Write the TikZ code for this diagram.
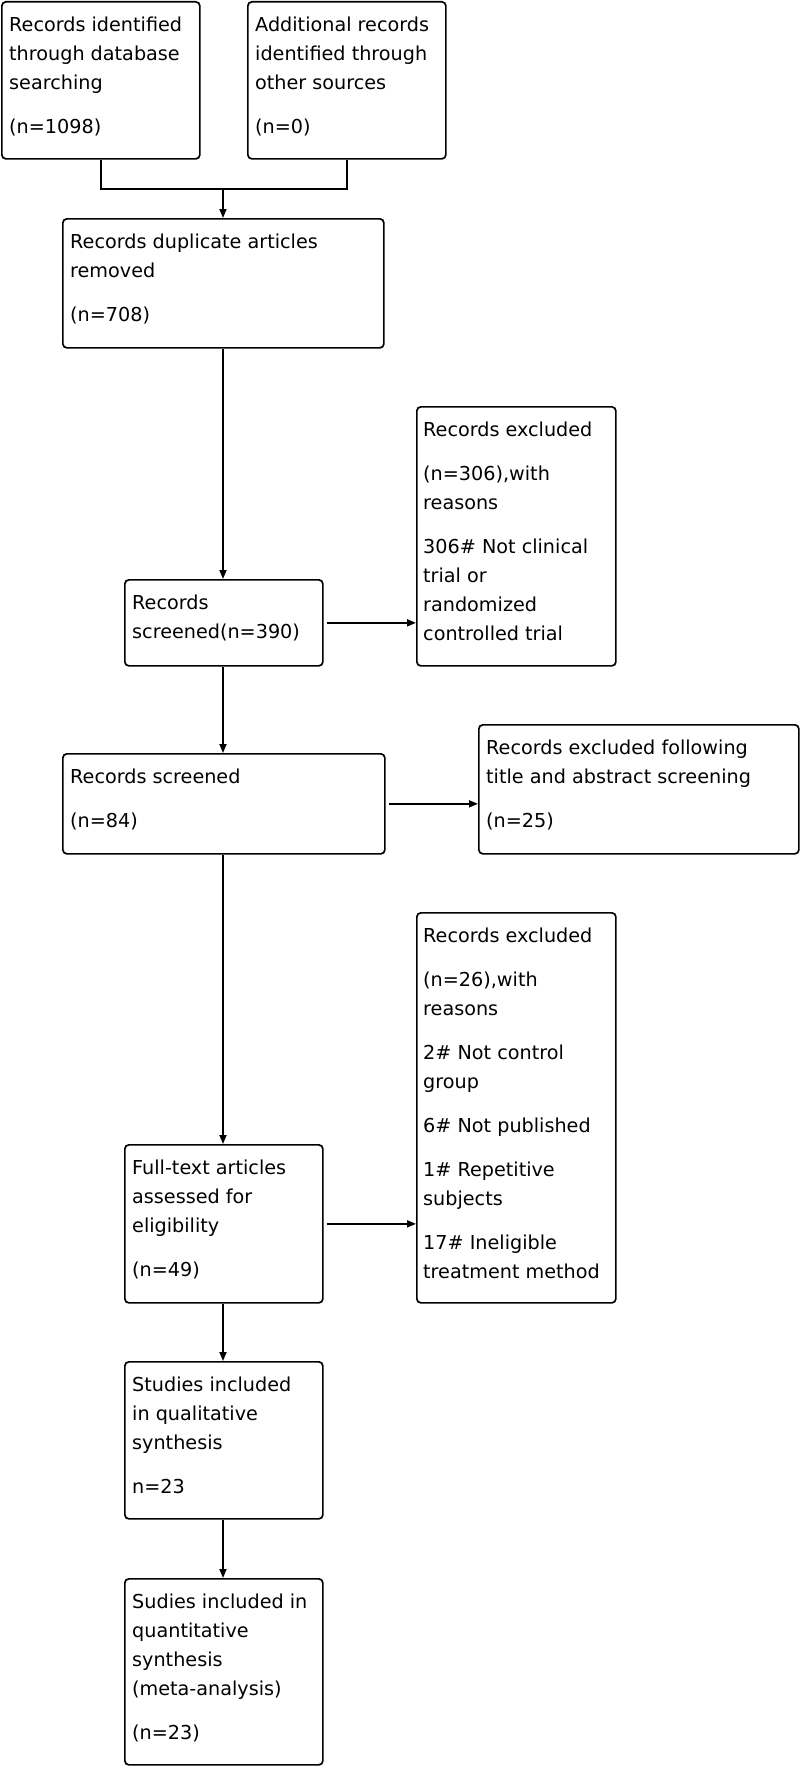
\documentclass[tikz,border=0pt]{standalone}
\usepackage{fontspec}
\setmainfont{DejaVu Sans}
\usetikzlibrary{arrows.meta}
\begin{document}
\begin{tikzpicture}[x=1pt,y=-1pt,
  box/.style={draw, line width=1.7pt, rounded corners=4pt, inner sep=0pt, anchor=north west},
  txt/.style={anchor=north west, inner sep=0pt, align=left, font=\fontsize{19.2}{29}\selectfont},
  ln/.style={line width=1.7pt},
  arr/.style={line width=1.7pt, -{Triangle[length=9pt,width=7pt]}}]
\useasboundingbox (0,0) rectangle (800,1766);
% boxes
\node[box, minimum width=198pt, minimum height=157pt] (A) at (1,1) {};
\node[box, minimum width=198pt, minimum height=157pt] (B) at (247,1) {};
\node[box, minimum width=321pt, minimum height=129pt] (C) at (62,218) {};
\node[box, minimum width=198pt, minimum height=86pt] (D) at (124,579) {};
\node[box, minimum width=199pt, minimum height=259pt] (E) at (416,406) {};
\node[box, minimum width=322pt, minimum height=100pt] (F) at (62,753) {};
\node[box, minimum width=320pt, minimum height=129pt] (G) at (478,724) {};
\node[box, minimum width=199pt, minimum height=390pt] (H) at (416,912) {};
\node[box, minimum width=198pt, minimum height=158pt] (I) at (124,1144) {};
\node[box, minimum width=198pt, minimum height=157pt] (J) at (124,1361) {};
\node[box, minimum width=198pt, minimum height=186pt] (K) at (124,1578) {};
% texts
\node[txt] (tA) at (9,12) {\rule{0pt}{19pt}Records identified\\through database\\searching\\[15pt](n=1098)};
\node[txt] (tB) at (255,12) {\rule{0pt}{19pt}Additional records\\identified through\\other sources\\[15pt](n=0)};
\node[txt] (tC) at (70,229) {\rule{0pt}{19pt}Records duplicate articles\\removed\\[15pt](n=708)};
\node[txt] (tD) at (132,590) {\rule{0pt}{19pt}Records\\screened(n=390)};
\node[txt] (tE) at (423,417) {\rule{0pt}{19pt}Records excluded\\[15pt](n=306),with\\reasons\\[15pt]306\# Not clinical\\trial or\\randomized\\controlled trial};
\node[txt] (tF) at (70,764) {\rule{0pt}{19pt}Records screened\\[15pt](n=84)};
\node[txt] (tG) at (486,735) {\rule{0pt}{19pt}Records excluded following\\title and abstract screening\\[15pt](n=25)};
\node[txt] (tH) at (423,923) {\rule{0pt}{19pt}Records excluded\\[15pt](n=26),with\\reasons\\[15pt]2\# Not control\\group\\[15pt]6\# Not published\\[15pt]1\# Repetitive\\subjects\\[15pt]17\# Ineligible\\treatment method};
\node[txt] (tI) at (132,1155) {\rule{0pt}{19pt}Full-text articles\\assessed for\\eligibility\\[15pt](n=49)};
\node[txt] (tJ) at (132,1372) {\rule{0pt}{19pt}Studies included\\in qualitative\\synthesis\\[15pt]n=23};
\node[txt] (tK) at (132,1589) {\rule{0pt}{19pt}Sudies included in\\quantitative\\synthesis\\(meta-analysis)\\[15pt](n=23)};
% connectors
\coordinate (join) at (223,189);
\draw[ln] (A.south) |- (join) -| (B.south);
\draw[arr] (join) -- (join |- C.north);
\draw[arr] (join |- C.south) -- (join |- D.north);
\draw[arr, shorten <=3pt] (D.east) -- (D.east -| E.west);
\draw[arr] (join |- D.south) -- (join |- F.north);
\draw[arr, shorten <=3pt] (F.east) -- (F.east -| G.west);
\draw[arr] (join |- F.south) -- (join |- I.north);
\draw[arr, shorten <=3pt] (I.east) -- (I.east -| H.west);
\draw[arr] (join |- I.south) -- (join |- J.north);
\draw[arr] (join |- J.south) -- (join |- K.north);
\end{tikzpicture}
\end{document}
